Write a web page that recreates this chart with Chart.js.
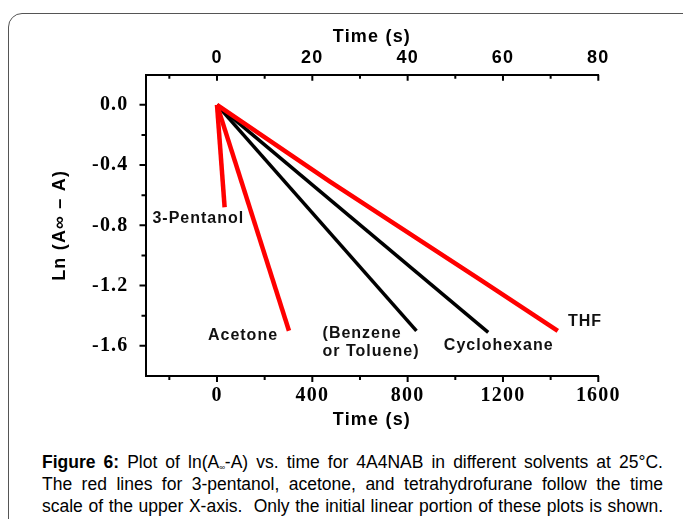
<!DOCTYPE html>
<html>
<head>
<meta charset="utf-8">
<script src="https://cdn.jsdelivr.net/npm/chart.js@4.4.1/dist/chart.umd.min.js"></script>
<style>
body { margin:0; background:#fff; width:683px; height:519px; overflow:hidden; position:relative; font-family:"Liberation Sans", Arial, sans-serif; }
#frame { position:absolute; left:8px; top:13px; width:720px; height:560px; border:1.5px solid #555; border-radius:14px; }
#chart { position:absolute; left:0; top:0; }
#caption { position:absolute; left:42px; top:451px; width:621px; font-size:17.5px; line-height:22px; color:#000; }
#caption div { text-align:justify; text-align-last:justify; height:22px; }
#caption sub { font-size:8px; vertical-align:-2px; line-height:0; }
</style>
</head>
<body>
<div id="frame"></div>
<canvas id="chart" width="683" height="440"></canvas>
<div id="caption">
<div><b>Figure 6:</b> Plot of ln(A<sub>&infin;</sub>-A) vs. time for 4A4NAB in different solvents at 25°C.</div>
<div>The red lines for 3-pentanol, acetone, and tetrahydrofurane follow the time</div>
<div>scale of the upper X-axis.&nbsp; Only the initial linear portion of these plots is shown.</div>
</div>
<script>
// ----------------------------------------------------------------------
// red lines : upper X-axis, time (s)
const pentanol_t = [0, 1.6]
const pentanol_ln = [0, -0.68]
const acetone_t = [0, 15.1]
const acetone_ln = [0, -1.50]
const thf_t = [0, 23.7, 55.2, 71.5]
const thf_ln = [0, -0.51, -1.16, -1.50]

// black lines : lower X-axis, time (s)
const benzene_t = [0, 837]
const benzene_ln = [0, -1.50]
const cyclohexane_t = [0, 1138]
const cyclohexane_ln = [0, -1.51]

// tick labels
const ticks_y = [0.0, -0.4, -0.8, -1.2, -1.6]
const ticks_bottom = [0, 400, 800, 1200, 1600]
const ticks_top = [0, 20, 40, 60, 80]

// curve names, anchored in lower-axis time / ln units
const solvent_names = ["3-Pentanol", "Acetone", "(Benzene", "or Toluene)", "Cyclohexane", "THF"]
const name_at_t = [-271, -38, 443, 443, 952, 1473]
const name_at_ln = [-0.756, -1.53, -1.519, -1.641, -1.597, -1.442]

// ----------------------------------------------------------------------
function pairs(tt, ll)
{
	return tt.map((t, i) => ({x: t, y: ll[i]}))
}

function line_set(label, tt, ll, color, width, axis)
{
	return {
		label: label,
		data: pairs(tt, ll),
		xAxisID: axis,
		borderColor: color,
		borderWidth: width,
		borderCapStyle: 'butt',
		pointRadius: 0,
		fill: false,
		tension: 0
		}
}

// ----------------------------------------------------------------------
const tick_marks = {
	id: 'tick_marks',
	beforeDraw(chart) {
		chart.ctx.letterSpacing = '1.2px'
	},
	afterDraw(chart) {
		const ctx = chart.ctx
		const sx = chart.scales.x
		const sx2 = chart.scales.x2
		const sy = chart.scales.y
		ctx.save()
		ctx.strokeStyle = '#000'
		ctx.lineWidth = 2
		ctx.beginPath()
		for (let k = -8; k <= 0; k++)
			{
			const py = sy.getPixelForValue(k * 0.2)
			const len = (k % 2 === 0) ? 6 : 4
			ctx.moveTo(sy.right, py)
			ctx.lineTo(sy.right - len, py)
			}
		for (let k = -1; k <= 8; k++)
			{
			const len = (k % 2 === 0) ? 6 : 4
			const px = sx.getPixelForValue(k * 200)
			ctx.moveTo(px, sx.top)
			ctx.lineTo(px, sx.top + len)
			const qx = sx2.getPixelForValue(k * 10)
			ctx.moveTo(qx, sx2.bottom)
			ctx.lineTo(qx, sx2.bottom + len)
			}
		ctx.stroke()

		ctx.letterSpacing = '1px'
		ctx.fillStyle = '#111'
		ctx.font = 'bold 16px "Liberation Sans", Arial, sans-serif'
		ctx.textAlign = 'left'
		ctx.textBaseline = 'middle'
		for (let i = 0; i < solvent_names.length; i++)
			{
			ctx.fillText(solvent_names[i], sx.getPixelForValue(name_at_t[i]), sy.getPixelForValue(name_at_ln[i]))
			}
		ctx.restore()
		ctx.letterSpacing = '0px'
	}
}

// ----------------------------------------------------------------------
const title_font = {family: '"Liberation Sans", Arial, sans-serif', size: 18, weight: 'bold'}
const serif_font = {family: '"Liberation Serif", "Times New Roman", serif', size: 20, weight: 'bold'}

const config = {
	type: 'line',
	data: {
		datasets: [
			line_set("3-Pentanol", pentanol_t, pentanol_ln, '#ff0000', 4.5, 'x2'),
			line_set("Acetone", acetone_t, acetone_ln, '#ff0000', 4.5, 'x2'),
			line_set("THF", thf_t, thf_ln, '#ff0000', 4.5, 'x2'),
			line_set("Benzene or Toluene", benzene_t, benzene_ln, '#000000', 3.5, 'x'),
			line_set("Cyclohexane", cyclohexane_t, cyclohexane_ln, '#000000', 3.5, 'x')
		]
		},
	options: {
		responsive: false,
		animation: false,
		layout: {padding: {left: 49.2, top: 26.2, right: 84.7, bottom: 9.2}},
		plugins: {legend: {display: false}, tooltip: {enabled: false}},
		scales: {
			x: {
				type: 'linear', position: 'bottom', min: -300, max: 1600,
				afterBuildTicks: s => { s.ticks = ticks_bottom.map(v => ({value: v})) },
				afterFit: s => { s.height = 54.8 },
				grid: {display: false},
				border: {display: true, color: '#000', width: 2},
				ticks: {font: serif_font, color: '#000', padding: 0, maxRotation: 0, autoSkip: false, callback: v => String(v)},
				title: {display: true, text: 'Time (s)', font: title_font, color: '#000', padding: 0}
				},
			x2: {
				type: 'linear', position: 'top', min: -15, max: 80,
				afterBuildTicks: s => { s.ticks = ticks_top.map(v => ({value: v})) },
				afterFit: s => { s.height = 48.5 },
				grid: {display: false},
				border: {display: true, color: '#000', width: 2},
				ticks: {font: {family: '"Liberation Sans", Arial, sans-serif', size: 18, weight: 'bold'}, color: '#000', padding: -2, maxRotation: 0, autoSkip: false, callback: v => String(v)},
				title: {display: true, text: 'Time (s)', font: title_font, color: '#000', padding: 0}
				},
			y: {
				type: 'linear', position: 'left', min: -1.8, max: 0.2,
				afterBuildTicks: s => { s.ticks = ticks_y.map(v => ({value: v})) },
				afterFit: s => { s.width = 96.3 },
				grid: {display: false},
				border: {display: true, color: '#000', width: 2},
				ticks: {font: serif_font, color: '#000', padding: 9, callback: v => v.toFixed(1)},
				title: {display: true, text: 'Ln (A\u221E \u2013 A)', font: title_font, color: '#000', padding: 0}
				}
			}
		},
	plugins: [tick_marks]
	}

const chart = new Chart(document.getElementById('chart'), config)
</script>
</body>
</html>
